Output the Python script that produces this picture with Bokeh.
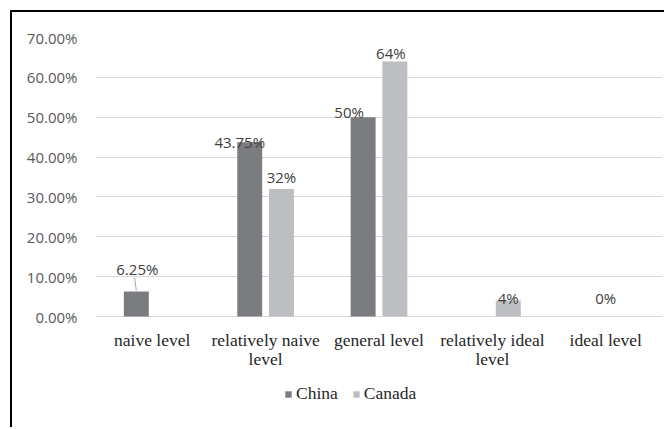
from bokeh.plotting import figure
from bokeh.models import ColumnDataSource, FactorRange, Range1d, PrintfTickFormatter, Legend, LegendItem, FixedTicker
from bokeh.transform import dodge
from bokeh.core.properties import value
from bokeh.embed import file_html
from bokeh.resources import INLINE

# ---- data ----
categories = ["naive level", "relatively naive\nlevel", "general level",
              "relatively ideal\nlevel", "ideal level"]
series = ["China", "Canada"]
china = [6.25, 43.75, 50.0, 0.0, 0.0]
canada = [0.0, 32.0, 64.0, 4.0, 0.0]
china_labels = ["6.25%", "43.75%", "50%", "", ""]
canada_labels = ["", "32%", "64%", "4%", "0%"]
y_ticks = [0, 10, 20, 30, 40, 50, 60, 70]

# ---- label nudges (screen px, style only) ----
china_dx = [1, -10, -14, 0, 0]
china_dy = [-23, 0, -5, 0, 0]
canada_dx = [0, 0, -4, 0, -16]
canada_dy = [0, -12, -8, -3, -19]

CHINA_COLOR = "#7b7c80"
CANADA_COLOR = "#bdbec2"
TICK_FONT = "Open Sans"
SERIF = "Liberation Serif"

# ---- layout constants (px) ----
W, H = 654, 417
TOP = 25            # space above the 70% line
PLOT_H = 279        # 0% .. 70%
Y_MAX = 70.0
px_per_unit = PLOT_H / Y_MAX
below_px = H - TOP - PLOT_H
y_lo = -below_px / px_per_unit

src = ColumnDataSource(dict(cat=categories, china=china, canada=canada,
                            china_labels=china_labels, canada_labels=canada_labels,
                            cdx=china_dx, cdy=china_dy, kdx=canada_dx, kdy=canada_dy))

p = figure(x_range=FactorRange(*categories, range_padding=0),
           y_range=Range1d(y_lo, Y_MAX),
           width=W, height=H,
           output_backend="svg", toolbar_location=None,
           min_border_left=83, min_border_right=4,
           min_border_top=TOP, min_border_bottom=0,
           styles={"margin-left": "10px", "margin-top": "10px",
                   "border-left": "2px solid #000", "border-top": "2px solid #000"})

bw = 0.22
off = 0.14
r1 = p.vbar(x=dodge("cat", -off, range=p.x_range), top="china", bottom=0, width=bw,
            source=src, fill_color=CHINA_COLOR, line_color=None)
r2 = p.vbar(x=dodge("cat", off, range=p.x_range), top="canada", bottom=0, width=bw,
            source=src, fill_color=CANADA_COLOR, line_color=None)

p.text(x=dodge("cat", -off, range=p.x_range), y="china", text="china_labels",
       x_offset="cdx", y_offset="cdy", source=src,
       text_align="center", text_baseline="middle",
       text_font=value(TICK_FONT), text_font_size="15px", text_color="#404040")
p.text(x=dodge("cat", off, range=p.x_range), y="canada", text="canada_labels",
       x_offset="kdx", y_offset="kdy", source=src,
       text_align="center", text_baseline="middle",
       text_font=value(TICK_FONT), text_font_size="15px", text_color="#404040")

# leader line for the first China label
lead = ColumnDataSource(dict(cat=[categories[0]],
                             y0=[china[0] + 1.0 / px_per_unit],
                             y1=[china[0] + 14.0 / px_per_unit]))
p.segment(x0=dodge("cat", -off, range=p.x_range), y0="y0",
          x1=dodge("cat", -off - 0.015, range=p.x_range), y1="y1",
          source=lead, line_color="#a6a6a6", line_width=1)

# axes / grid
p.outline_line_color = None
p.xgrid.grid_line_color = None
p.ygrid.grid_line_color = "#d9d9d9"
p.ygrid.grid_line_width = 1
p.yaxis.ticker = FixedTicker(ticks=y_ticks)
p.yaxis.formatter = PrintfTickFormatter(format="%.2f%%")
for ax in (p.xaxis[0], p.yaxis[0]):
    ax.axis_line_color = None
    ax.major_tick_line_color = None
    ax.minor_tick_line_color = None
p.xaxis.fixed_location = 0
p.yaxis.major_label_text_font = TICK_FONT
p.yaxis.major_label_text_font_size = "15px"
p.yaxis.major_label_text_color = "#595959"
p.yaxis.major_label_standoff = 12
p.xaxis.major_label_text_font = SERIF
p.xaxis.major_label_text_font_size = "17.5px"
p.xaxis.major_label_text_color = "#262626"
p.xaxis.major_label_text_line_height = 0.95
p.xaxis.major_label_standoff = 7

legend = Legend(items=[LegendItem(label=series[0], renderers=[r1]),
                       LegendItem(label=series[1], renderers=[r2])],
                orientation="horizontal", location=(189, 25),
                border_line_color=None, background_fill_alpha=0,
                label_text_font=SERIF, label_text_font_size="17.5px",
                label_text_color="#262626",
                glyph_width=8, glyph_height=8, spacing=14,
                padding=0, margin=0, label_standoff=4)
p.add_layout(legend)

open("out.html", "w").write(file_html(p, INLINE))
